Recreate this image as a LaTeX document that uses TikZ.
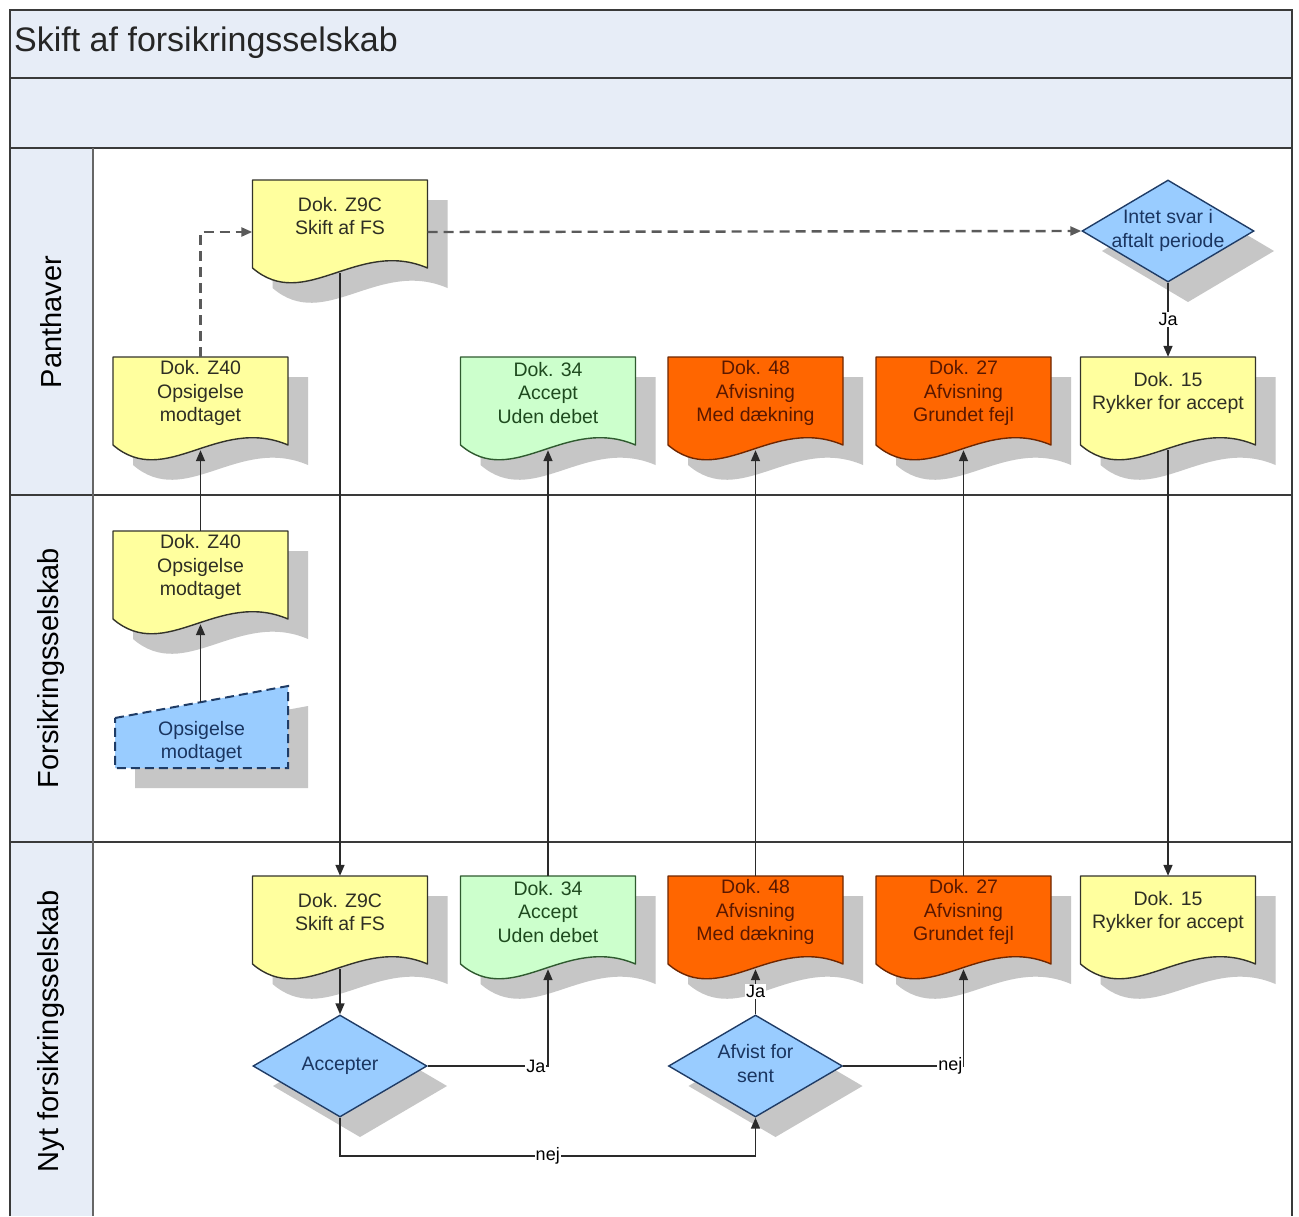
\documentclass[tikz,border=0pt]{standalone}
\usepackage{fontspec}
\setmainfont{Liberation Sans}
\usetikzlibrary{shapes.geometric,arrows.meta}
\definecolor{bandbg}{HTML}{E7EDF7}
\definecolor{framec}{HTML}{3A3A3A}
\definecolor{shadowc}{HTML}{C6C6C6}
\definecolor{yF}{HTML}{FFFF9E}
\definecolor{yL}{HTML}{33332A}
\definecolor{yT}{HTML}{2E2E24}
\definecolor{gF}{HTML}{CCFFCC}
\definecolor{gL}{HTML}{2F5A2F}
\definecolor{gT}{HTML}{1E4A1E}
\definecolor{oF}{HTML}{FF6600}
\definecolor{oL}{HTML}{6E2600}
\definecolor{oT}{HTML}{5A1800}
\definecolor{bF}{HTML}{99CCFF}
\definecolor{bL}{HTML}{1F3C66}
\definecolor{bT}{HTML}{1A3560}
\definecolor{conc}{HTML}{2A2A2A}
\definecolor{dashcol}{HTML}{5A5A5A}

\newcommand\docshape[5]{%
  \begin{scope}[shift={(#2-87.5,#3)}]
    \fill[shadowc] (20,20) -- (195,20) -- (195,108) .. controls (125,78) and (72.5,153) .. (20,108) -- cycle;
    \filldraw[fill=#4F, draw=#4L, line width=1.4pt, line join=round] (0,0) -- (175,0) -- (175,88) .. controls (105,58) and (52.5,133) .. (0,88) -- cycle;
  \end{scope}
  \node[doctext, text=#4T] (#1) at (#2,#3+36) {#5};}

\newcommand\zwtext[1]{\makebox[0pt][c]{\begin{tabular}{@{}c@{}}#1\end{tabular}}}

\newcommand\decnode[6]{%
  \fill[shadowc] (#2+20,#3-#5+20) -- (#2+#4+20,#3+20) -- (#2+20,#3+#5+20) -- (#2-#4+20,#3+20) -- cycle;
  \node[decisionbox, minimum width=#4*2pt, minimum height=#5*2pt] (#1) at (#2,#3) {\zwtext{#6}};}

\begin{document}
\begin{tikzpicture}[x=1pt,y=-1pt,
  doctext/.style={minimum width=175pt, minimum height=72pt, inner sep=0pt, align=center,
    font=\fontsize{19.5}{23.5}\selectfont},
  decisionbox/.style={shape=diamond, fill=bF, draw=bL, line width=1.4pt, text=bT, inner sep=0pt,
    font=\fontsize{19.5}{23.5}\selectfont},
  lanelbl/.style={rotate=90, font=\fontsize{29}{34}\selectfont, text=black, inner sep=0pt},
  con/.style={draw=conc, line width=1.6pt, -{Triangle[length=11pt,width=9pt]}},
  dcon/.style={draw=dashcol, line width=2.4pt, dash pattern=on 10pt off 6pt,
    -{Triangle[length=11pt,width=9pt]}},
  lbl/.style={fill=white, inner sep=1pt, text=black, font=\fontsize{18}{20}\selectfont},
  sepline/.style={draw=framec, line width=2pt}
]
\useasboundingbox (0,0) rectangle (1299,1216);
\fill[white] (0,0) rectangle (1299,1216);

% pool and lanes
\fill[bandbg] (10,10) rectangle (1292,148);
\fill[bandbg] (10,148) rectangle (93,1216);
\draw[sepline] (10,78) -- (1292,78);
\draw[sepline] (10,148) -- (1292,148);
\draw[sepline] (10,495) -- (1292,495);
\draw[sepline] (10,842) -- (1292,842);
\draw[draw=gray!80!black, line width=2pt] (93,148) -- (93,1216);
\draw[draw=framec, line width=2.6pt] (10,1216) -- (10,10) -- (1292,10) -- (1292,1216);

\node[anchor=west, inner sep=0pt, font=\fontsize{34}{40}\selectfont, text=black!85] (title) at (14,43) {Skift af forsikringsselskab};

\node[lanelbl] (lane1) at (51,322) {Panthaver};
\node[lanelbl] (lane2) at (51,668) {Forsikringsselskab};
\node[lanelbl] (lane3) at (51,1031) {Nyt forsikringsselskab};

% Panthaver lane
\docshape{z9cp}{340}{180}{y}{Dok. Z9C\\Skift af FS}
\docshape{z40p}{200.5}{357}{y}{Dok. Z40\\Opsigelse\\modtaget}
\docshape{d34p}{548}{357}{g}{Dok. 34\\Accept\\Uden debet}
\docshape{d48p}{755.5}{357}{o}{Dok. 48\\Afvisning\\Med dækning}
\docshape{d27p}{963.5}{357}{o}{Dok. 27\\Afvisning\\Grundet fejl}
\docshape{d15p}{1168}{357}{y}{Dok. 15\\Rykker for accept}
\decnode{intet}{1168}{231}{86}{51}{Intet svar i\\aftalt periode}

% Forsikringsselskab lane
\docshape{z40f}{200.5}{531}{y}{Dok. Z40\\Opsigelse\\modtaget}
\fill[shadowc] (135,738) -- (308,706) -- (308,788) -- (135,788) -- cycle;
\filldraw[fill=bF, draw=bL, line width=2pt, dash pattern=on 9pt off 5pt]
  (115,718) -- (288,686) -- (288,768) -- (115,768) -- cycle;
\node[align=center, inner sep=0pt, text=bT, font=\fontsize{19.5}{23.5}\selectfont] (opsig) at (201.5,742) {Opsigelse\\modtaget};
\coordinate (opsigtop) at (200.5,702);

% Nyt forsikringsselskab lane
\docshape{z9cn}{340}{876}{y}{Dok. Z9C\\Skift af FS}
\docshape{d34n}{548}{876}{g}{Dok. 34\\Accept\\Uden debet}
\docshape{d48n}{755.5}{876}{o}{Dok. 48\\Afvisning\\Med dækning}
\docshape{d27n}{963.5}{876}{o}{Dok. 27\\Afvisning\\Grundet fejl}
\docshape{d15n}{1168}{876}{y}{Dok. 15\\Rykker for accept}
\decnode{acc}{340}{1066}{87}{51}{Accepter}
\decnode{afv}{755.5}{1066}{87}{51}{Afvist for\\sent}

% connectors
\draw[dcon] (z40p.north) |- ([yshift=-16pt]z9cp.west);
\draw[dcon] ([yshift=-16pt]z9cp.east) -- (intet.west);
\draw[con] (intet.south) -- node[lbl] {Ja} (d15p.north);
\draw[con] ([yshift=-21pt]z9cp.south) -- (z9cn.north);
\draw[con] ([yshift=-21pt]d15p.south) -- (d15n.north);
\draw[con] (z40f.north) -- ([yshift=-21pt]z40p.south);
\draw[con] (opsigtop) -- ([yshift=-21pt]z40f.south);
\draw[con] ([yshift=-21pt]z9cn.south) -- (acc.north);
\draw[con] (acc.east) -| node[lbl, pos=0.45] {Ja} ([yshift=-21pt]d34n.south);
\draw[con] (acc.south) -- ++(0,38) -| node[lbl, pos=0.25] {nej} (afv.south);
\draw[con] (afv.north) -- node[lbl] {Ja} ([yshift=-21pt]d48n.south);
\draw[con] (afv.east) -| node[lbl, pos=0.445] {nej} ([yshift=-21pt]d27n.south);
\draw[con] (d34n.north) -- ([yshift=-21pt]d34p.south);
\draw[con] (d48n.north) -- ([yshift=-21pt]d48p.south);
\draw[con] (d27n.north) -- ([yshift=-21pt]d27p.south);
\end{tikzpicture}
\end{document}
